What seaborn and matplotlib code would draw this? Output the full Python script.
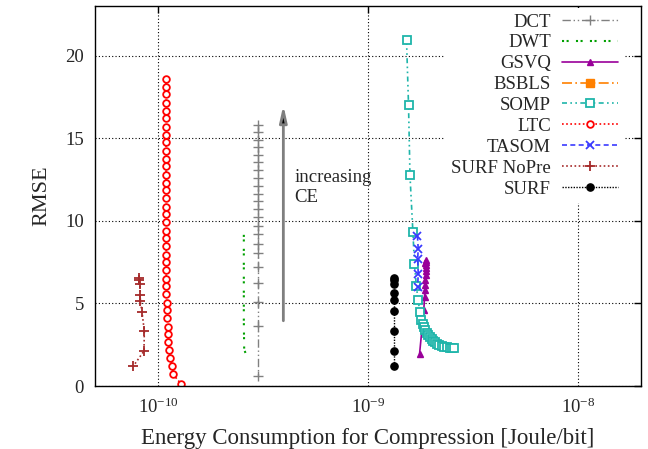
import numpy as np
import pandas as pd
import matplotlib
matplotlib.use("Agg")
import matplotlib.pyplot as plt
import seaborn as sns

# ---------------- data ----------------
dct_x = [3.0e-10] * 22
dct_y = [15.82, 15.35, 14.89, 14.44, 14.0, 13.53, 13.07, 12.59, 12.12, 11.65, 11.21,
         10.71, 10.2, 9.7, 9.19, 8.62, 8.08, 7.23, 6.25, 5.11, 3.64, 0.61]

dwt_x = [2.56e-10, 2.56e-10, 2.56e-10, 2.57e-10, 2.67e-10]
dwt_y = [9.15, 6.5, 4.0, 2.2, 1.68]

gsvq_x = [1.76e-9, 1.845e-9, 1.86e-9, 1.865e-9, 1.87e-9, 1.875e-9, 1.88e-9, 1.885e-9,
          1.89e-9, 1.89e-9, 1.885e-9, 1.88e-9, 1.875e-9]
gsvq_y = [1.92, 4.6, 5.4, 5.8, 6.1, 6.4, 6.7, 6.95, 7.15, 7.35, 7.5, 7.6, 7.45]

bsbls_x = []
bsbls_y = []

somp_x = [1.526e-9, 1.56e-9, 1.585e-9, 1.637e-9, 1.665e-9, 1.70e-9, 1.733e-9, 1.766e-9,
          1.797e-9, 1.82e-9, 1.845e-9, 1.875e-9, 1.91e-9, 1.94e-9, 1.97e-9, 2.01e-9,
          2.05e-9, 2.09e-9, 2.14e-9, 2.19e-9, 2.25e-9, 2.31e-9, 2.38e-9, 2.45e-9,
          2.52e-9, 2.58e-9]
somp_y = [20.95, 17.0, 12.75, 9.3, 7.4, 6.05, 5.2, 4.5, 4.0, 3.75, 3.6, 3.42, 3.23, 3.1,
          2.98, 2.86, 2.75, 2.64, 2.55, 2.48, 2.42, 2.38, 2.35, 2.32, 2.3, 2.28]

ltc_x = [1.09e-10] * 14 + [1.092e-10] * 14 + [1.099e-10, 1.103e-10, 1.106e-10, 1.111e-10,
         1.115e-10, 1.119e-10, 1.127e-10, 1.14e-10, 1.169e-10, 1.18e-10, 1.28e-10]
ltc_y = [18.6, 18.1, 17.65, 17.15, 16.65, 16.2, 15.7, 15.2, 14.75, 14.25, 13.75, 13.3,
         12.8, 12.3, 11.85, 11.35, 10.85, 10.4, 9.9, 9.4, 8.95, 8.45, 7.95, 7.5, 7.0,
         6.5, 6.05, 5.55, 5.05, 4.6, 4.1, 3.6, 3.15, 2.65, 2.15, 1.7, 1.2, 0.7, 0.15]
ltc_x = ltc_x[:len(ltc_y)]

tasom_x = [1.72e-9, 1.735e-9, 1.725e-9, 1.735e-9, 1.725e-9]
tasom_y = [9.1, 8.3, 7.7, 6.8, 6.0]

surfnp_x = [8.07e-11, 8.1e-11, 8.19e-11, 8.22e-11, 8.22e-11, 8.37e-11, 8.59e-11, 8.56e-11, 7.62e-11]
surfnp_y = [6.55, 6.4, 6.2, 5.5, 5.15, 4.5, 3.33, 2.12, 1.21]

surf_x = [1.33e-9] * 9
surf_y = [6.55, 6.4, 6.2, 5.6, 5.2, 4.55, 3.33, 2.12, 1.21]

# ---------------- styling ----------------
sns.set_theme(style="white")
plt.rcParams["font.family"] = ["Liberation Serif", "DejaVu Serif"]
plt.rcParams["mathtext.fontset"] = "stix"

fig = plt.figure(figsize=(6.48, 4.49), dpi=100)
ax = fig.add_axes([0.1466, 0.1403, 0.9892 - 0.1466, 0.9866 - 0.1403])


def style(color, marker="", ms=6, mew=1.0, mfc=None, ls="-", lw=1.0):
    return dict(color=color, marker=marker, markersize=ms, markeredgewidth=mew,
                markeredgecolor=color, markerfacecolor=(mfc if mfc else color),
                linestyle=ls, linewidth=lw)


series = [
    ("DCT", dct_x, dct_y, style("#808080", "+", 6.5, 1.0, None, (0, (6, 2, 1, 2, 1, 2)), 1.0)),
    ("DWT", dwt_x, dwt_y, style("#00A000", "", 0, 0, None, (0, (1, 1.2, 1, 3.5)), 1.5)),
    ("GSVQ", gsvq_x, gsvq_y, style("#990099", "^", 4.5, 1.0, None, "-", 1.2)),
    ("BSBLS", bsbls_x, bsbls_y, style("#FF8000", "s", 6, 1.0, None, (0, (6, 2, 1, 2)), 1.2)),
    ("SOMP", somp_x, somp_y, style("#1FB5AA", "s", 5.5, 1.3, "white", (0, (3, 2, 1, 2, 1, 2)), 1.2)),
    ("LTC", ltc_x, ltc_y, style("#FF0000", "o", 4.8, 1.3, "white", (0, (1, 1.5)), 1.2)),
    ("TASOM", tasom_x, tasom_y, style("#3B3BFF", "x", 6, 1.3, None, (0, (3, 2)), 1.2)),
    ("SURF NoPre", surfnp_x, surfnp_y, style("#A52A2A", "+", 6.5, 1.3, None, (0, (1, 1.5)), 1.2)),
    ("SURF", surf_x, surf_y, style("black", "o", 5.2, 1.0, None, (0, (1, 1)), 1.0)),
]

for name, xs, ys, kw in series:
    df = pd.DataFrame({"x": xs, "y": ys}, dtype=float)
    if len(df):
        sns.lineplot(data=df, x="x", y="y", ax=ax, sort=False, estimator=None,
                     label=name, legend=False, **kw)
    else:
        ax.plot([], [], label=name, **kw)

ax.set_xscale("log")
ax.set_xlim(5e-11, 2e-8)
ax.set_ylim(0, 23)
ax.set_yticks([0, 5, 10, 15, 20])
ax.set_xticks([1e-10, 1e-9, 1e-8])
ax.xaxis.set_minor_locator(matplotlib.ticker.NullLocator())

ax.grid(True, which="major", color="black", linestyle=(0, (1, 2)), linewidth=0.8)
for s in ax.spines.values():
    s.set_color("black")
    s.set_linewidth(1.0)
ax.tick_params(axis="both", which="major", direction="in", length=5, width=1,
               top=True, right=True, labelsize=13.5, color="black", pad=8)

ax.set_xlabel("Energy Consumption for Compression [Joule/bit]", fontsize=16.5, labelpad=8)
ax.set_ylabel("RMSE", fontsize=16, labelpad=10)

# arrow + annotation
ax.annotate("", xy=(3.95e-10, 17.0), xytext=(3.95e-10, 3.95),
            arrowprops=dict(arrowstyle="-|>,head_length=0.8,head_width=0.18",
                            fc="black", ec="#7f7f7f", lw=2, shrinkA=0, shrinkB=0))
ax.text(4.45e-10, 12.0, "increasing\nCE", fontsize=13.5, va="center", ha="left",
        linespacing=1.25)

leg = ax.legend(loc="upper right", bbox_to_anchor=(0.986, 1.02), markerfirst=False,
                frameon=True, fontsize=13.5, handlelength=3.0, labelspacing=0.2,
                borderpad=0.3, handletextpad=0.6)
leg.get_frame().set_facecolor("white")
leg.get_frame().set_edgecolor("none")
leg.get_frame().set_alpha(1.0)
for t in leg.get_texts():
    t.set_ha("right")

fig.savefig("out.png", dpi=100)
